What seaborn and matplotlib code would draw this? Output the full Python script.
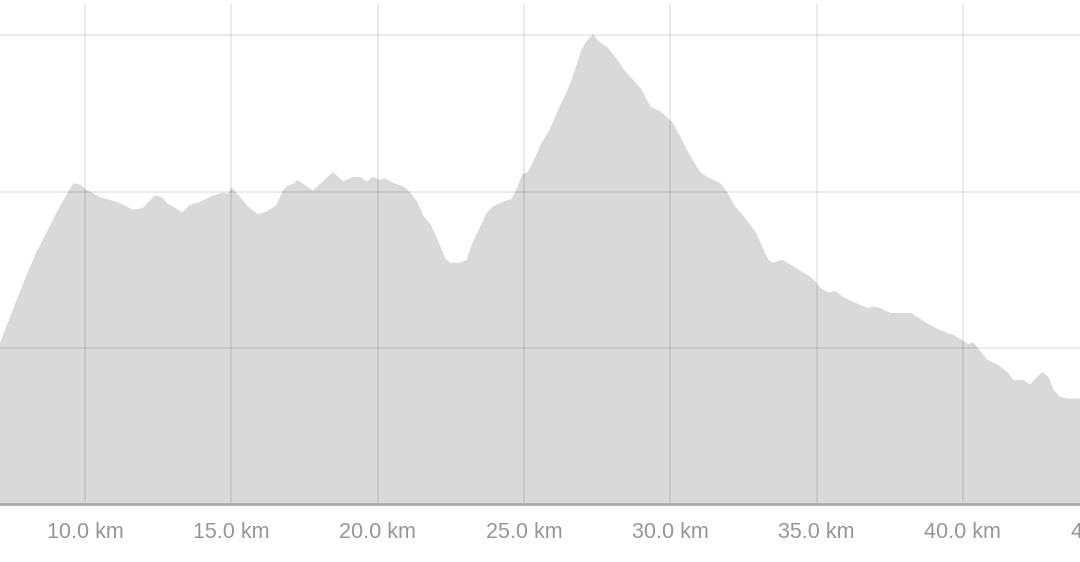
import matplotlib
matplotlib.use("Agg")
import matplotlib.pyplot as plt
import matplotlib.transforms as mtransforms
import seaborn as sns
import pandas as pd

# === Elevation profile ===
distance_km = [
    7.10, 7.95, 8.36, 8.80, 9.04, 9.25, 9.42, 9.62, 9.83, 10.03,
    10.51, 11.09, 11.44, 11.61, 11.98, 12.39, 12.63, 12.80, 13.01, 13.32,
    13.59, 13.93, 14.37, 14.72, 14.89, 15.02, 15.30, 15.57, 15.91, 16.22,
    16.56, 16.77, 16.90, 17.18, 17.25, 17.42, 17.79, 18.13, 18.48, 18.82,
    19.16, 19.40, 19.64, 19.84, 20.08, 20.25, 20.53, 20.87, 21.11, 21.35,
    21.55, 21.79, 22.03, 22.30, 22.47, 22.82, 23.06, 23.26, 23.74, 23.94,
    24.29, 24.59, 24.76, 24.97, 25.14, 25.31, 25.62, 25.89, 26.23, 26.47,
    26.68, 26.99, 27.16, 27.36, 27.53, 27.84, 28.18, 28.39, 28.73, 28.97,
    29.31, 29.65, 29.89, 30.06, 30.33, 30.68, 31.02, 31.26, 31.70, 31.94,
    32.21, 32.49, 32.90, 33.14, 33.34, 33.51, 33.82, 34.09, 34.78, 34.95,
    35.12, 35.39, 35.63, 35.91, 36.25, 36.76, 36.93, 37.17, 37.51, 38.20,
    38.54, 38.98, 39.46, 39.66, 40.01, 40.18, 40.35, 40.52, 40.83, 41.17,
    41.51, 41.72, 42.06, 42.30, 42.54, 42.71, 42.91, 43.08, 43.32, 43.66,
    44.01,
]
elevation_m = [
    102, 143, 161, 177, 186, 193, 199, 205, 204, 201,
    196, 193, 190, 188, 189, 197, 196, 192, 190, 186,
    191, 193, 197, 199, 198, 202, 196, 190, 185, 187,
    191, 200, 203, 205, 207, 205, 200, 206, 212, 206,
    209, 209, 206, 209, 207, 208, 205, 203, 199, 193,
    184, 179, 169, 157, 154, 154, 156, 167, 186, 190,
    193, 195, 201, 211, 212, 218, 231, 239, 254, 263,
    273, 291, 296, 300, 296, 292, 284, 278, 271, 266,
    254, 251, 247, 244, 235, 222, 212, 209, 205, 199,
    190, 184, 174, 164, 156, 154, 156, 153, 145, 142,
    138, 135, 136, 132, 129, 125, 126, 125, 122, 122,
    118, 113, 109, 108, 104, 102, 103, 99, 92, 89,
    84, 79, 79, 76, 81, 84, 81, 73, 68, 67,
    67,
]
tick_km = [10, 15, 20, 25, 30, 35, 40, 45]
grid_elev = [100, 200, 300]

df = pd.DataFrame({"km": distance_km, "elev": elevation_m})

# === Style ===
sns.set_theme(style="white")
plt.rcParams["font.family"] = ["Liberation Sans", "DejaVu Sans"]

fig = plt.figure(figsize=(10.8, 5.62), dpi=100)
ax = fig.add_axes([0, 1 - 504 / 562, 1, 500 / 562])

fill_color = "#d9d9d9"
label_color = "#969696"
ax.fill_between(df["km"], df["elev"], 0, color=fill_color, linewidth=0, zorder=1)
sns.lineplot(data=df, x="km", y="elev", ax=ax, color=fill_color, linewidth=0.8, zorder=1)

ax.set_xticks(tick_km)
ax.set_xticklabels([f"{t:.1f} km" for t in tick_km])
ax.set_yticks(grid_elev)
ax.set_yticklabels([])
# limits after the ticks, otherwise the 45 km tick widens the view
ax.set_xlim(7.10, 44.0)
ax.set_ylim(0, 320)

# grid drawn on top of the area, semi transparent
ax.set_axisbelow(False)
ax.grid(True, color="black", alpha=0.08, linewidth=1.4, zorder=3)

for side in ["top", "right", "left"]:
    ax.spines[side].set_visible(False)
ax.spines["bottom"].set_color("#a9a9a9")
ax.spines["bottom"].set_linewidth(2)
ax.spines["bottom"].set_zorder(4)

ax.tick_params(axis="x", length=0, pad=13, labelsize=15.5, labelcolor=label_color)
ax.tick_params(axis="y", length=0)
ax.set_xlabel("")
ax.set_ylabel("")

# the last tick sits past the right edge, its label is only partly visible
trans = mtransforms.blended_transform_factory(ax.transData, ax.transAxes)
ax.text(tick_km[-1], -0.056, f"{tick_km[-1]:.1f} km", transform=trans,
        ha="center", va="center", fontsize=15.5, color=label_color, clip_on=False)

fig.savefig("out.png", dpi=100)
plt.close(fig)
